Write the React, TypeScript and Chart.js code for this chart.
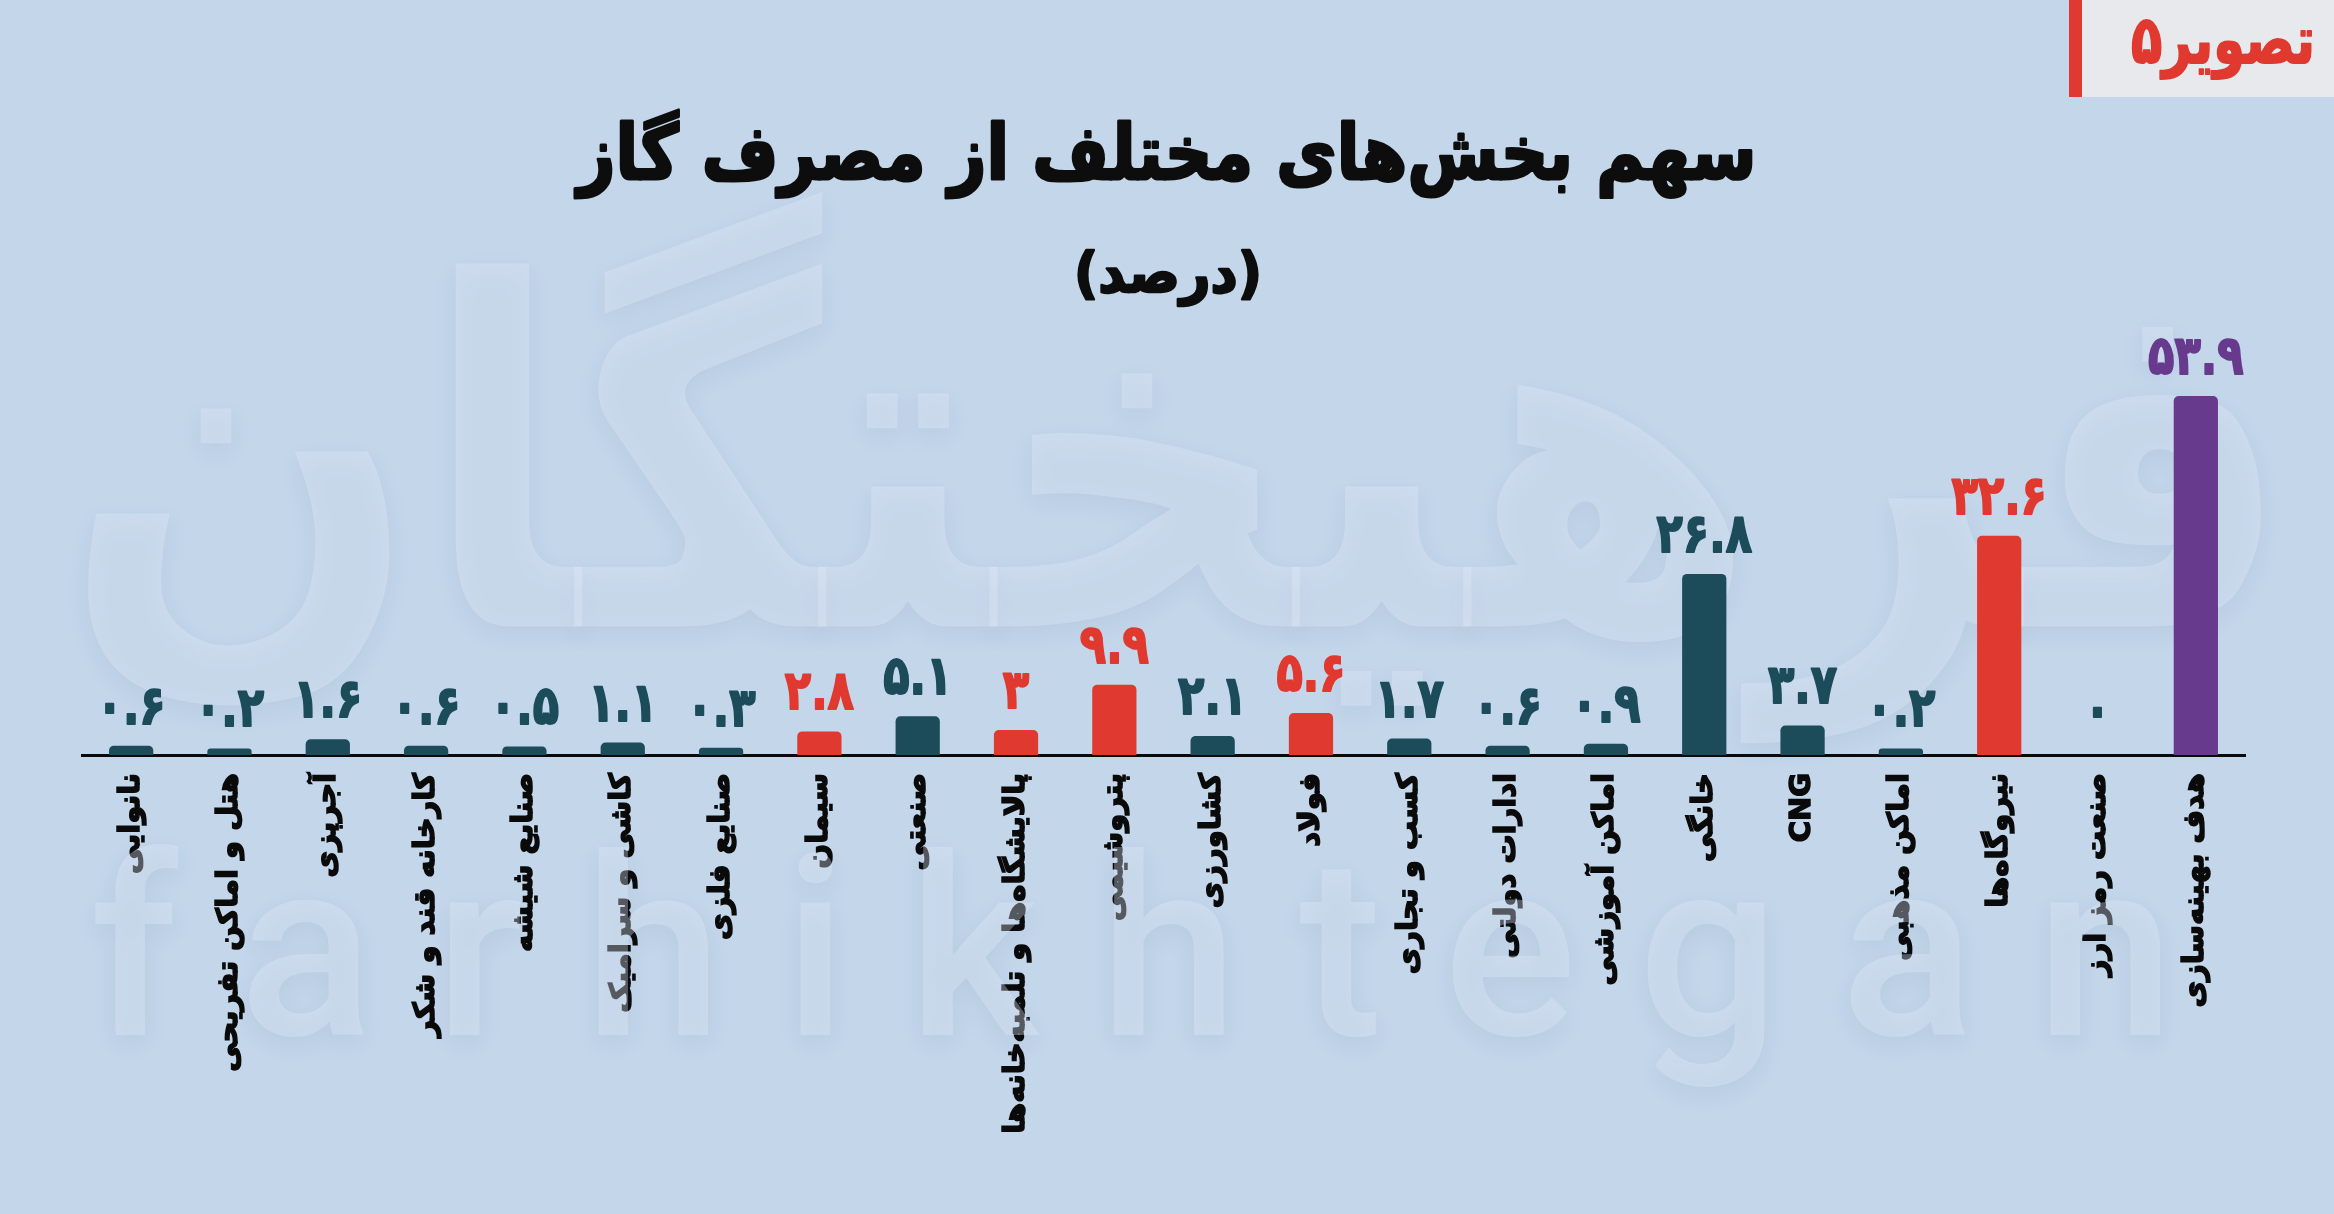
import React, { useEffect, useRef } from "react";
import { Chart, registerables } from "chart.js";

Chart.register(...registerables);

const categories = [
  "نانوایی",
  "هتل و اماکن تفریحی",
  "آجرپزی",
  "کارخانه قند و شکر",
  "صنایع شیشه",
  "کاشی و سرامیک",
  "صنایع فلزی",
  "سیمان",
  "صنعتی",
  "پالایشگاه‌ها و تلمبه‌خانه‌ها",
  "پتروشیمی",
  "کشاورزی",
  "فولاد",
  "کسب و تجاری",
  "ادارات دولتی",
  "اماکن آموزشی",
  "خانگی",
  "CNG",
  "اماکن مذهبی",
  "نیروگاه‌ها",
  "صنعت رمز ارز",
  "هدف بهینه‌سازی",
];

const values = [0.6, 0.2, 1.6, 0.6, 0.5, 1.1, 0.3, 2.8, 5.1, 3, 9.9, 2.1, 5.6, 1.7, 0.6, 0.9, 26.8, 3.7, 0.2, 32.6, 0, 53.9];

const groups = [
  "base", "base", "base", "base", "base", "base", "base", "red", "base", "red", "red",
  "base", "red", "base", "base", "base", "base", "base", "base", "red", "base", "target",
];

const TITLE = "سهم بخش‌های مختلف از مصرف گاز";
const SUBTITLE = "(درصد)";
const BADGE = "تصویر۵";
const WATERMARK_FA = "فرهیختگان";
const WATERMARK_EN = "farhikhtegan";

const COLORS: Record<string, string> = {
  base: "#1c4b5a",
  red: "#e0392f",
  target: "#673a8e",
};
const BG = "#c3d6ea";
const FA_FONT = "'DejaVu Sans', sans-serif";

const faDigits = "۰۱۲۳۴۵۶۷۸۹";
const toFa = (v: number) => String(v).replace(/\d/g, (d) => faDigits[+d]);

function drawFitted(
  ctx: CanvasRenderingContext2D,
  text: string,
  cx: number,
  cy: number,
  targetW: number,
  font: string,
  color: string,
  stroke = 0
) {
  ctx.save();
  ctx.font = font;
  ctx.fillStyle = color;
  ctx.strokeStyle = color;
  ctx.lineJoin = "round";
  ctx.textAlign = "center";
  ctx.textBaseline = "alphabetic";
  const m = ctx.measureText(text);
  const asc = m.actualBoundingBoxAscent;
  const desc = m.actualBoundingBoxDescent;
  const sx = targetW / m.width;
  ctx.translate(cx, cy + (asc - desc) / 2);
  ctx.scale(sx, 1);
  ctx.fillText(text, 0, 0);
  if (stroke > 0) {
    ctx.lineWidth = stroke;
    ctx.strokeText(text, 0, 0);
  }
  ctx.restore();
}

const decorPlugin = {
  id: "decor",
  beforeDraw(chart: any) {
    const { ctx, width, height } = chart;
    ctx.save();
    ctx.fillStyle = BG;
    ctx.fillRect(0, 0, width, height);
    ctx.restore();
  },
  beforeDatasetsDraw(chart: any) {
    const { ctx } = chart;
    // watermark (Persian)
    ctx.save();
    ctx.font = `bold 400px ${FA_FONT}`;
    ctx.textAlign = "left";
    ctx.textBaseline = "alphabetic";
    const m = ctx.measureText(WATERMARK_FA);
    const left = m.actualBoundingBoxLeft;
    const w = m.actualBoundingBoxRight + left;
    const h = m.actualBoundingBoxAscent + m.actualBoundingBoxDescent;
    const boxX = 82, boxW = 2180, boxY = 186, boxH = 560;
    ctx.translate(boxX, boxY);
    ctx.scale(boxW / w, boxH / h);
    ctx.fillStyle = "rgba(225,236,248,0.35)";
    ctx.shadowColor = "rgba(40,70,110,0.18)";
    ctx.shadowBlur = 25;
    ctx.shadowOffsetY = 8;
    ctx.fillText(WATERMARK_FA, left, m.actualBoundingBoxAscent);
    ctx.restore();

    // watermark (Latin)
    ctx.save();
    ctx.font = `500 250px Roboto, sans-serif`;
    ctx.textAlign = "left";
    ctx.textBaseline = "alphabetic";
    const mw = ctx.measureText(WATERMARK_EN).width;
    const target = 2085;
    (ctx as any).letterSpacing = `${(target - mw) / (WATERMARK_EN.length - 1)}px`;
    ctx.fillStyle = "rgba(225,236,248,0.35)";
    ctx.shadowColor = "rgba(40,70,110,0.2)";
    ctx.shadowBlur = 25;
    ctx.shadowOffsetY = 8;
    ctx.fillText(WATERMARK_EN, 90, 1035);
    ctx.restore();
  },
  afterDatasetsDraw(chart: any) {
    const { ctx } = chart;
    const xs = chart.scales.x;
    const ys = chart.scales.y;
    ctx.save();
    ctx.font = `bold 54px ${FA_FONT}`;
    ctx.textAlign = "center";
    ctx.textBaseline = "alphabetic";
    ctx.lineJoin = "round";
    ctx.lineWidth = 2;
    values.forEach((v, i) => {
      const x = xs.getPixelForValue(i);
      const top = ys.getPixelForValue(v);
      ctx.save();
      ctx.translate(x, top - 22);
      ctx.scale(0.8, 1);
      ctx.fillStyle = COLORS[groups[i]];
      ctx.strokeStyle = COLORS[groups[i]];
      ctx.fillText(toFa(v), 0, 0);
      ctx.strokeText(toFa(v), 0, 0);
      ctx.restore();
    });
    ctx.restore();
  },
  afterDraw(chart: any) {
    const { ctx } = chart;
    // title and subtitle
    drawFitted(ctx, TITLE, 1167, 153, 1179, `bold 76px ${FA_FONT}`, "#0d0d0d", 3);
    drawFitted(ctx, SUBTITLE, 1168, 278, 188, `bold 56px ${FA_FONT}`, "#0d0d0d", 2.5);
    // badge
    ctx.save();
    ctx.fillStyle = "#e7e9ed";
    ctx.fillRect(2081, 0, 253, 97);
    ctx.fillStyle = "#e0392f";
    ctx.fillRect(2069, 0, 13, 97);
    ctx.restore();
    drawFitted(ctx, BADGE, 2223, 50, 184, `bold 66px ${FA_FONT}`, "#e0392f", 2);
  },
};

export default function App() {
  const ref = useRef<HTMLCanvasElement>(null);
  useEffect(() => {
    document.body.style.margin = "0";
    document.body.style.background = BG;
    const canvas = ref.current!;
    const chart = new Chart(canvas, {
      type: "bar",
      data: {
        labels: categories,
        datasets: [
          {
            data: values.map((v) => (v === 0 ? null : v)),
            base: -0.8,
            backgroundColor: groups.map((g) => COLORS[g]),
            borderRadius: 5,
            borderSkipped: "start",
            barPercentage: 0.45,
            categoryPercentage: 1,
          } as any,
        ],
      },
      options: {
        responsive: false,
        animation: false,
        devicePixelRatio: 1,
        layout: { padding: { left: 82, right: 89, top: 356, bottom: 0 } },
        plugins: {
          legend: { display: false },
          title: { display: false },
          tooltip: { enabled: false },
        },
        scales: {
          x: {
            grid: { display: false, drawTicks: false },
            border: { display: true, color: "#0a0a0a", width: 3 },
            ticks: {
              autoSkip: false,
              minRotation: 90,
              maxRotation: 90,
              padding: 18,
              color: "#0a0a0a",
              textStrokeColor: "#0a0a0a",
              textStrokeWidth: 1.5,
              font: { family: FA_FONT, weight: "bold", size: 29 },
            },
            afterFit: (scale: any) => {
              scale.height = 1214 - 755;
            },
          },
          y: {
            display: false,
            min: -0.8,
            max: 60,
          },
        },
      },
      plugins: [decorPlugin],
    });
    return () => chart.destroy();
  }, []);
  return (
    <div style={{ position: "fixed", left: 0, top: 0, width: 2334, height: 1214, background: BG }}>
      <canvas ref={ref} width={2334} height={1214} style={{ display: "block" }} />
    </div>
  );
}
